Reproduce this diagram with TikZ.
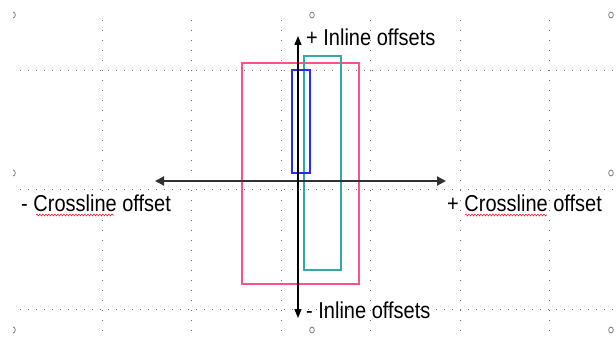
\documentclass[tikz,border=0pt]{standalone}
\usepackage{fontspec}
\setmainfont{Liberation Sans}
\usetikzlibrary{arrows.meta,decorations.pathmorphing}
\definecolor{gridgray}{RGB}{110,110,110}
\definecolor{pinkc}{RGB}{255,80,140}
\definecolor{tealc}{RGB}{50,170,170}
\definecolor{bluec}{RGB}{40,40,255}
\definecolor{axisc}{RGB}{50,50,50}
\tikzset{
  vgrid/.style={gridgray, line width=0.9pt, dash pattern=on 0.9pt off 9.1pt},
  hgrid/.style={gridgray, line width=0.9pt, dash pattern=on 0.9pt off 7.1pt},
  mark o/.style={gridgray, line width=0.7pt},
  pinkbox/.style={draw=pinkc, line width=1.4pt},
  tealbox/.style={draw=tealc, line width=1.4pt},
  bluebox/.style={draw=bluec, line width=1.3pt},
  varrow/.style={black, line width=1.3pt, {Triangle[length=9pt,width=7pt]}-{Triangle[length=9pt,width=7pt]}},
  harrow/.style={axisc, line width=2pt, {Triangle[length=9pt,width=9pt]}-{Triangle[length=9pt,width=9pt]}},
  lbl/.style={inner sep=0pt, font=\fontsize{20}{24}\selectfont},
  squig/.style={red!85!white, line width=0.6pt, decorate, decoration={snake, amplitude=0.9pt, segment length=3pt}}
}
\newcommand{\tallt}[1]{\scalebox{1}[1.15]{#1}}
\begin{document}
\begin{tikzpicture}[x=1pt,y=-1pt]
\useasboundingbox (0,0) rectangle (616,337);
\fill[white] (0,0) rectangle (616,337);
% grid
\foreach \gx in {102,191,281,370,460,549} {
  \draw[vgrid] (\gx,20) -- (\gx,331);
}
\foreach \gy in {70,189,309} {
  \draw[hgrid] (20,\gy) -- (614,\gy);
}
% small marks
\foreach \mx/\my in {312/15,611/15,611/173,312/330,611/330} {
  \draw[mark o] (\mx,\my) ellipse [x radius=2.3pt, y radius=3pt];
}
\foreach \my in {15,173,330} {
  \draw[mark o] (13,\my-3) arc[start angle=90, end angle=-90, x radius=2.3pt, y radius=3pt];
}
% rectangles
\draw[pinkbox] (242,63) rectangle (359,284);
\draw[tealbox] (304,56) rectangle (341,270);
\draw[bluebox] (292,70) rectangle (310,173);
% axes
\coordinate (vt) at (298,36);
\coordinate (vb) at (298,318);
\coordinate (hl) at (155,181);
\coordinate (hr) at (446,181);
\draw[harrow] (hl) -- (hr);
\draw[varrow] (vb) -- (vt);
% labels
\node[lbl, anchor=base west] (inlp) at (306,46) {\tallt{+ Inline offsets}};
\node[lbl, anchor=base west] (inlm) at (306,318) {\tallt{- Inline offsets}};
\node[lbl, anchor=base west] (crm) at (21,211) {\tallt{- Crossline offset}};
\node[lbl, anchor=base west] (crp) at (447,211) {\tallt{+ Crossline offset}};
% spell-check squiggles
\draw[squig] (36,215) -- (114,215);
\draw[squig] (465,215) -- (547,215);
\end{tikzpicture}
\end{document}
